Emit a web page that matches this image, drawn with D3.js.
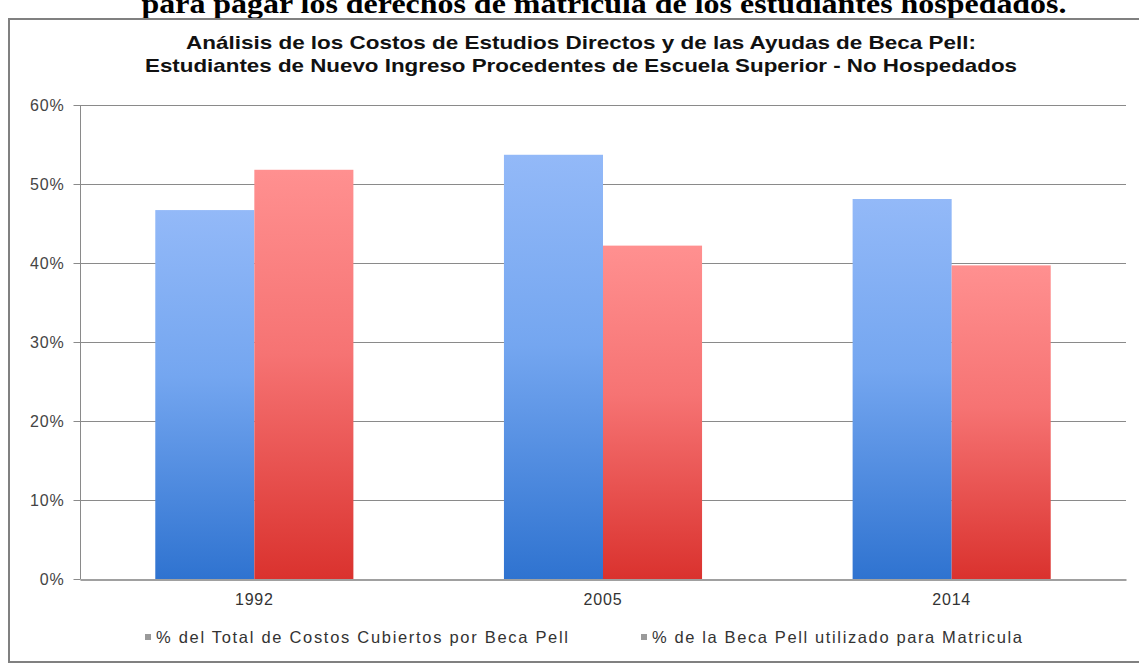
<!DOCTYPE html>
<html><head><meta charset="utf-8">
<script src="https://cdn.jsdelivr.net/npm/d3@7"></script>
<style>body{margin:0;background:#fff}svg{display:block}</style>
</head><body>
<svg id="chart" width="1139" height="664"></svg>
<script>
const categories = ["1992", "2005", "2014"];
const seriesNames = ["% del Total de Costos Cubiertos por Beca Pell", "% de la Beca Pell utilizado para Matricula"];
const costosCubiertos = [0.467, 0.537, 0.481];
const becaMatricula = [0.518, 0.422, 0.397];
const yTicks = [0, 0.1, 0.2, 0.3, 0.4, 0.5, 0.6];
const pageHeading = "para pagar los derechos de matrícula de los estudiantes hospedados.";
const titleLines = ["Análisis de los Costos de Estudios Directos y de las Ayudas de Beca Pell:",
                    "Estudiantes de Nuevo Ingreso Procedentes de Escuela Superior - No Hospedados"];

const svg = d3.select("#chart");
const plot = {left: 80, right: 1126, top: 105, bottom: 579};
const sans = "'Liberation Sans',Arial,sans-serif";

const defs = svg.append("defs");
const grads = [
  {id: "gBlue", stops: [["0%", "#93b9f8"], ["45%", "#74a6f0"], ["100%", "#2f73d0"]]},
  {id: "gRed",  stops: [["0%", "#ff9090"], ["45%", "#f67373"], ["100%", "#da322e"]]}
];
grads.forEach(g => {
  const lg = defs.append("linearGradient").attr("id", g.id)
    .attr("x1", 0).attr("y1", 0).attr("x2", 0).attr("y2", 1);
  g.stops.forEach(s => lg.append("stop").attr("offset", s[0]).attr("stop-color", s[1]));
});
const fills = ["url(#gBlue)", "url(#gRed)"];
const legendColors = ["#9a9a9a", "#9a9a9a"];

// page heading (cut off at top edge)
svg.append("text").attr("x", 604).attr("y", 13)
  .attr("text-anchor", "middle")
  .attr("font-family", "'Liberation Serif','Times New Roman',serif")
  .attr("font-weight", "bold").attr("font-size", 28).attr("fill", "#000")
  .attr("textLength", 925).attr("lengthAdjust", "spacingAndGlyphs")
  .text(pageHeading);

// frame
svg.append("rect").attr("x", 9).attr("y", 19).attr("width", 1140).attr("height", 643)
  .attr("fill", "#fff").attr("stroke", "#808080").attr("stroke-width", 2);

// titles
const titleLen = [790, 872];
titleLines.forEach((t, i) => {
  svg.append("text").attr("x", 581).attr("y", 49 + i * 23)
    .attr("text-anchor", "middle")
    .attr("font-family", sans)
    .attr("font-weight", "bold").attr("font-size", 18.5).attr("fill", "#111")
    .attr("textLength", titleLen[i]).attr("lengthAdjust", "spacingAndGlyphs")
    .text(t);
});

const y = d3.scaleLinear().domain([0, 0.6]).range([plot.bottom, plot.top]);
const x0 = d3.scaleBand().domain(categories).range([plot.left, plot.right]).padding(0);
const x1 = d3.scaleBand().domain([0, 1]).range([0, x0.bandwidth()]).paddingInner(0).paddingOuter(0.76);

// gridlines
svg.append("g").selectAll("line").data(yTicks.filter(d => d > 0)).join("line")
  .attr("x1", plot.left).attr("x2", plot.right)
  .attr("y1", d => y(d) + 0.5).attr("y2", d => y(d) + 0.5)
  .attr("stroke", "#8a8a8a").attr("stroke-width", 1);

// y axis
const yAxis = d3.axisLeft(y).tickValues(yTicks).tickFormat(d3.format(".0%")).tickSize(7).tickPadding(9);
const gy = svg.append("g").attr("transform", `translate(${plot.left + 0.5},0)`).call(yAxis);
gy.select(".domain").attr("stroke", "#8a8a8a").attr("d", `M0,${plot.top}V${plot.bottom}`);
gy.selectAll(".tick line").attr("stroke", "#8a8a8a");
gy.selectAll(".tick text").attr("font-family", sans)
  .attr("font-size", 16).attr("fill", "#444").attr("letter-spacing", 0.8);

// bars
const data = categories.map((c, i) => ({cat: c, vals: [costosCubiertos[i], becaMatricula[i]]}));
const groups = svg.append("g").selectAll("g").data(data).join("g")
  .attr("transform", d => `translate(${x0(d.cat)},0)`);
groups.selectAll("rect").data(d => d.vals.map((v, k) => ({k, v}))).join("rect")
  .attr("x", d => x1(d.k)).attr("width", x1.bandwidth())
  .attr("y", d => y(d.v)).attr("height", d => y(0) - y(d.v))
  .attr("fill", d => fills[d.k]);

// x axis
const xAxis = d3.axisBottom(x0).tickSize(0).tickPadding(14);
const gx = svg.append("g").attr("transform", `translate(0,${plot.bottom + 0.5})`).call(xAxis);
gx.select(".domain").attr("stroke", "#808080").attr("stroke-width", 1.5);
gx.selectAll(".tick text").attr("font-family", sans)
  .attr("font-size", 16).attr("fill", "#333").attr("letter-spacing", 0.8);

// legend
const legendItems = [
  {x: 145, textX: 156, target: 412},
  {x: 641, textX: 652, target: 370}
];
legendItems.forEach((L, i) => {
  svg.append("rect").attr("x", L.x).attr("y", 634).attr("width", 6).attr("height", 6)
    .attr("fill", legendColors[i]);
  const t = svg.append("text").attr("x", L.textX).attr("y", 643)
    .attr("font-family", sans)
    .attr("font-size", 16.5).attr("fill", "#333")
    .text(seriesNames[i]);
  const nat = t.node().getComputedTextLength();
  const n = seriesNames[i].length - 1;
  t.attr("letter-spacing", Math.max(0, (L.target - nat) / n));
});
</script>
</body></html>
